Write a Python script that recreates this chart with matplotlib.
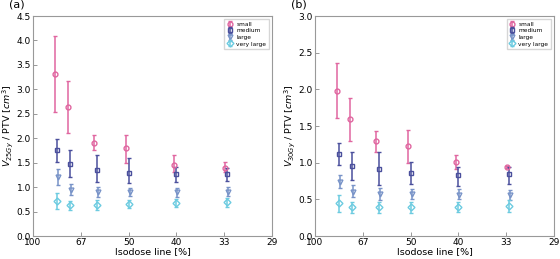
import numpy as np
import matplotlib
matplotlib.use("Agg")
from matplotlib import pyplot as plt

# isodose lines (percent) of the measured points and the axis ticks
isodose = [80, 72, 60, 50, 40, 33]
tick_labels = ["100", "67", "50", "40", "33", "29"]
tick_pos = [1.0, 1.5, 2.0, 2.5, 3.0, 3.5]
groups = ["small", "medium", "large", "very large"]

# panel (a): V25Gy / PTV  (mean, lower bound, upper bound)
a_small = [3.31, 2.64, 1.91, 1.79, 1.46, 1.40]
a_small_lo = [2.54, 2.10, 1.76, 1.50, 1.30, 1.30]
a_small_hi = [4.09, 3.18, 2.07, 2.06, 1.66, 1.52]
a_medium = [1.76, 1.47, 1.36, 1.29, 1.26, 1.26]
a_medium_lo = [1.52, 1.20, 1.10, 1.08, 1.10, 1.12]
a_medium_hi = [1.98, 1.75, 1.65, 1.59, 1.42, 1.39]
a_large = [1.20, 0.94, 0.90, 0.89, 0.90, 0.91]
a_large_lo = [1.04, 0.84, 0.80, 0.81, 0.80, 0.82]
a_large_hi = [1.38, 1.06, 1.00, 0.98, 0.99, 1.00]
a_vlarge = [0.72, 0.63, 0.63, 0.65, 0.67, 0.70]
a_vlarge_lo = [0.55, 0.53, 0.54, 0.57, 0.59, 0.60]
a_vlarge_hi = [0.87, 0.72, 0.74, 0.73, 0.75, 0.78]

# panel (b): V30Gy / PTV
b_small = [1.98, 1.60, 1.29, 1.23, 1.01, 0.945]
b_small_lo = [1.61, 1.30, 1.14, 1.00, 0.92, 0.93]
b_small_hi = [2.36, 1.88, 1.43, 1.44, 1.10, 0.955]
b_medium = [1.12, 0.96, 0.91, 0.855, 0.83, 0.84]
b_medium_lo = [0.97, 0.77, 0.70, 0.705, 0.68, 0.71]
b_medium_hi = [1.27, 1.14, 1.14, 1.01, 0.94, 0.94]
b_large = [0.74, 0.60, 0.57, 0.57, 0.56, 0.56]
b_large_lo = [0.65, 0.53, 0.49, 0.50, 0.50, 0.49]
b_large_hi = [0.83, 0.70, 0.65, 0.64, 0.64, 0.63]
b_vlarge = [0.45, 0.39, 0.39, 0.39, 0.40, 0.41]
b_vlarge_lo = [0.33, 0.32, 0.31, 0.31, 0.33, 0.33]
b_vlarge_hi = [0.56, 0.46, 0.46, 0.46, 0.47, 0.49]

colors = ["#e066a0", "#4a4f9c", "#7893c8", "#6ccbe0"]
markers = ["o", "s", "v", "D"]
offsets = [-0.025, 0.0, 0.01, 0.0]

plt.rcParams["font.family"] = "DejaVu Sans"
fig = plt.figure(figsize=(5.6, 2.59), dpi=100)
ax1 = fig.add_axes([33 / 560, 23 / 259, 239 / 560, 220 / 259])
ax2 = fig.add_axes([315 / 560, 23 / 259, 239 / 560, 220 / 259])

x = 100.0 / np.array(isodose)

def draw(ax, data, ylim, yticks, ylab, tag):
    for i, (m, lo, hi) in enumerate(data):
        m = np.array(m)
        err = [m - np.array(lo), np.array(hi) - m]
        ax.errorbar(x + offsets[i], m, yerr=err, fmt=markers[i], color=colors[i],
                    mfc="none", ms=3.5, mew=1.0, elinewidth=1.1, capsize=1.5,
                    capthick=0.8, label=groups[i])
    ax.set_xlim(1.0, 3.5)
    ax.set_xticks(tick_pos)
    ax.set_xticklabels(tick_labels)
    ax.set_ylim(*ylim)
    ax.set_yticks(yticks)
    ax.tick_params(direction="in", labelsize=6.5, length=3, pad=1.5,
                   color="#888888", width=0.6)
    for s in ax.spines.values():
        s.set_color("#999999")
        s.set_linewidth(0.8)
    ax.set_xlabel("Isodose line [%]", fontsize=6.8, labelpad=0)
    ax.set_ylabel(ylab, fontsize=6.8, labelpad=1)
    ax.legend(loc="upper right", fontsize=4.2, frameon=True, handlelength=1.0,
              borderpad=0.5, labelspacing=0.25, handletextpad=0.5,
              edgecolor="#cccccc", fancybox=False)
    ax.text(-0.1, 1.03, tag, transform=ax.transAxes, fontsize=8, va="bottom")

draw(ax1, [(a_small, a_small_lo, a_small_hi), (a_medium, a_medium_lo, a_medium_hi),
           (a_large, a_large_lo, a_large_hi), (a_vlarge, a_vlarge_lo, a_vlarge_hi)],
     (0, 4.5), np.arange(0, 4.51, 0.5), r"$V_{25Gy}$ / PTV [$cm^3$]", "(a)")
draw(ax2, [(b_small, b_small_lo, b_small_hi), (b_medium, b_medium_lo, b_medium_hi),
           (b_large, b_large_lo, b_large_hi), (b_vlarge, b_vlarge_lo, b_vlarge_hi)],
     (0, 3.0), np.arange(0, 3.01, 0.5), r"$V_{30Gy}$ / PTV [$cm^3$]", "(b)")

fig.savefig("out.png", dpi=100)
